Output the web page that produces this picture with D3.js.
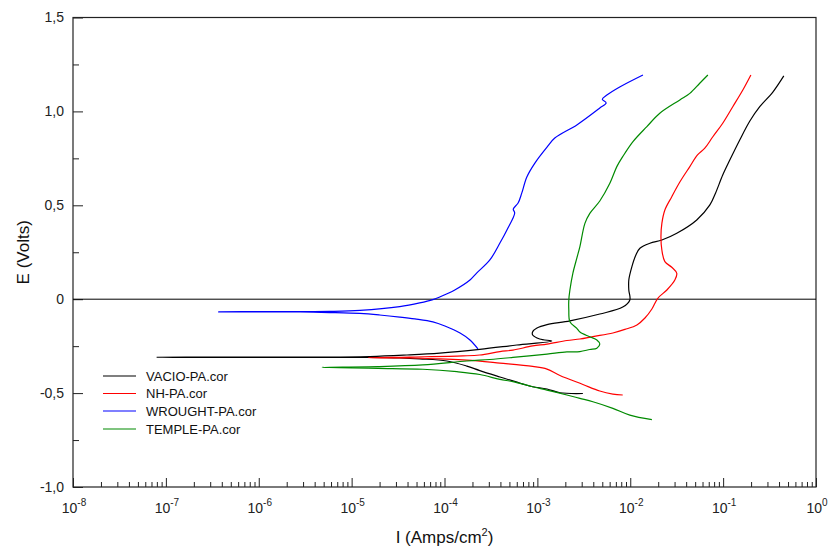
<!DOCTYPE html>
<html><head><meta charset="utf-8">
<script src="https://cdn.jsdelivr.net/npm/d3@7"></script>
<style>body{margin:0;background:#fff;}svg{display:block;font-family:"Liberation Sans",Arial,sans-serif;}</style>
</head><body>
<svg id="chart" width="831" height="549"></svg>
<script>
// ---- data ----
const seriesNames = ["VACIO-PA.cor", "NH-PA.cor", "WROUGHT-PA.cor", "TEMPLE-PA.cor"];
const seriesColors = ["#000000", "#ff0000", "#0000ff", "#008a00"];
const xTickExponents = [-8, -7, -6, -5, -4, -3, -2, -1, 0];
const yTickValues = [-1.0, -0.5, 0, 0.5, 1.0, 1.5];
const yTickLabels = ["-1,0", "-0,5", "0", "0,5", "1,0", "1,5"];

// VACIO (black): current (A/cm2) and potential (V)
const vacioI = [3.09e-3,1.75e-3,1.27e-3,8.9e-4,7.0e-4,3.95e-4,2.40e-4,1.74e-4,1.06e-4,5.4e-5,3.3e-5,1.57e-5,2.8e-6,2.33e-7,8.0e-8,
  2.33e-7,2.8e-6,1.57e-5,3.94e-5,8.9e-5,2.40e-4,6.0e-4,1.43e-3,1.06e-3,8.9e-4,8.9e-4,9.9e-4,1.27e-3,2.24e-3,4.7e-3,8.3e-3,9.9e-3,
  9.65e-3,9.65e-3,1.04e-2,1.15e-2,1.27e-2,1.63e-2,2.19e-2,3.17e-2,5.2e-2,7.2e-2,8.3e-2,9.9e-2,0.118,0.151,0.194,0.248,0.343,0.45];
const vacioE = [-0.502,-0.498,-0.478,-0.466,-0.452,-0.414,-0.380,-0.356,-0.329,-0.318,-0.313,-0.310,-0.310,-0.310,-0.309,
  -0.308,-0.308,-0.305,-0.297,-0.287,-0.267,-0.244,-0.223,-0.212,-0.191,-0.173,-0.153,-0.135,-0.115,-0.079,-0.042,-0.004,
  0.049,0.102,0.172,0.235,0.271,0.298,0.315,0.351,0.422,0.502,0.566,0.661,0.741,0.848,0.949,1.025,1.103,1.189];

// NH (red)
const nhI = [8.3e-3,6.5e-3,4.7e-3,3.09e-3,1.75e-3,1.27e-3,8.9e-4,3.95e-4,1.74e-4,8.9e-5,4.2e-5,1.5e-5,
  4.2e-5,1.58e-4,2.40e-4,3.95e-4,5.45e-4,8.9e-4,1.27e-3,2.08e-3,2.87e-3,3.96e-3,6.5e-3,8.75e-3,1.18e-2,1.44e-2,1.71e-2,1.98e-2,
  2.48e-2,3.02e-2,3.17e-2,2.8e-2,2.36e-2,2.19e-2,2.14e-2,2.19e-2,2.36e-2,2.8e-2,3.42e-2,4.38e-2,5.3e-2,6.35e-2,7.75e-2,9.9e-2,0.127,0.163,0.199];
const nhE = [-0.510,-0.505,-0.489,-0.454,-0.406,-0.372,-0.358,-0.340,-0.324,-0.318,-0.313,-0.312,
  -0.308,-0.302,-0.297,-0.279,-0.271,-0.249,-0.239,-0.220,-0.212,-0.199,-0.180,-0.161,-0.137,-0.100,-0.052,0.005,
  0.049,0.102,0.138,0.170,0.200,0.262,0.333,0.404,0.475,0.546,0.624,0.706,0.768,0.804,0.865,0.937,1.025,1.114,1.194];

// WROUGHT (blue)
const wroughtI = [2.29e-4,1.88e-4,1.47e-4,1.01e-4,7.5e-5,4.8e-5,3.3e-5,2.0e-5,1.23e-5,5.8e-6,2.8e-6,1.03e-6,3.7e-7,
  1.03e-6,2.8e-6,5.8e-6,1.23e-5,3.3e-5,5.4e-5,7.5e-5,8.9e-5,1.29e-4,1.88e-4,2.23e-4,3.08e-4,3.95e-4,4.7e-4,5.7e-4,5.5e-4,6.2e-4,6.8e-4,
  7.7e-4,9.4e-4,1.27e-3,1.54e-3,2.66e-3,4.7e-3,5.5e-3,5.0e-3,5.6e-3,7.7e-3,1.37e-2];
const wroughtE = [-0.264,-0.217,-0.180,-0.143,-0.121,-0.105,-0.095,-0.084,-0.076,-0.071,-0.068,-0.068,-0.068,
  -0.066,-0.066,-0.065,-0.060,-0.040,-0.020,-0.002,0.012,0.049,0.102,0.140,0.209,0.299,0.369,0.459,0.480,0.512,0.566,
  0.651,0.725,0.810,0.858,0.928,1.018,1.045,1.065,1.087,1.130,1.194];

// TEMPLE (green)
const templeI = [1.71e-2,9.9e-3,6.5e-3,3.96e-3,2.87e-3,2.08e-3,1.27e-3,8.9e-4,5.45e-4,3.95e-4,2.40e-4,1.36e-4,5.85e-5,1.92e-5,4.8e-6,
  1.92e-5,5.85e-5,1.74e-4,3.08e-4,5.45e-4,1.27e-3,2.08e-3,2.87e-3,3.67e-3,4.37e-3,4.7e-3,4.37e-3,3.67e-3,2.87e-3,2.66e-3,2.24e-3,
  2.18e-3,2.18e-3,2.24e-3,2.41e-3,2.66e-3,2.87e-3,3.25e-3,3.67e-3,4.7e-3,6.03e-3,7.17e-3,8.3e-3,1.07e-2,1.51e-2,2.08e-2,3.42e-2,4.38e-2,5.6e-2,6.85e-2];
const templeE = [-0.641,-0.617,-0.581,-0.546,-0.528,-0.510,-0.484,-0.466,-0.439,-0.427,-0.401,-0.386,-0.373,-0.368,-0.363,
  -0.359,-0.350,-0.329,-0.321,-0.310,-0.292,-0.281,-0.279,-0.268,-0.261,-0.239,-0.217,-0.200,-0.175,-0.155,-0.120,
  -0.058,-0.004,0.049,0.138,0.219,0.280,0.404,0.457,0.523,0.617,0.706,0.759,0.839,0.919,0.990,1.061,1.096,1.150,1.194];

const seriesI = [vacioI, nhI, wroughtI, templeI];
const seriesE = [vacioE, nhE, wroughtE, templeE];

// ---- drawing ----
const svg = d3.select("#chart");
const L = 73, R = 816, T = 17.5, B = 487;
const x = d3.scaleLog().domain([1e-8, 1]).range([L, R]);
const y = d3.scaleLinear().domain([-1.0, 1.5]).range([B, T]);

// minor / major ticks
const xMajor = xTickExponents.map(e => Math.pow(10, e));
const xMinor = [];
xTickExponents.slice(0, -1).forEach(e => { for (let k = 2; k <= 9; k++) xMinor.push(k * Math.pow(10, e)); });
const yMinor = d3.range(-0.75, 1.5, 0.5);

const gx = svg.append("g").attr("transform", `translate(0,${B})`);
gx.call(d3.axisBottom(x).tickValues(xMinor).tickSize(-5).tickFormat("").tickSizeOuter(0));
gx.append("g").call(d3.axisBottom(x).tickValues(xMajor).tickSize(-9).tickFormat("").tickSizeOuter(0));
const gy = svg.append("g").attr("transform", `translate(${L},0)`);
gy.call(d3.axisLeft(y).tickValues(yMinor).tickSize(-6).tickFormat("").tickSizeOuter(0));
gy.append("g").call(d3.axisLeft(y).tickValues(yTickValues).tickSize(-10).tickFormat("").tickSizeOuter(0));
svg.selectAll(".domain").remove();
svg.selectAll(".tick line").attr("stroke", "#222").attr("stroke-width", 1);

// frame
svg.append("rect").attr("x", L).attr("y", T).attr("width", R - L).attr("height", B - T)
  .attr("fill", "none").attr("stroke", "#222").attr("stroke-width", 1.2);

// zero line
svg.append("line").attr("x1", L).attr("x2", R).attr("y1", y(0)).attr("y2", y(0))
  .attr("stroke", "#000").attr("stroke-width", 1);

// y tick labels
svg.append("g").selectAll("text").data(yTickValues).join("text")
  .attr("x", L - 9).attr("y", d => y(d)).attr("dy", "0.35em")
  .attr("text-anchor", "end").attr("font-size", 14).attr("fill", "#222")
  .text((d, i) => yTickLabels[i]);

// x tick labels with superscripts
const xl = svg.append("g").selectAll("text").data(xTickExponents).join("text")
  .attr("x", d => x(Math.pow(10, d)) + 1).attr("y", 513)
  .attr("text-anchor", "middle").attr("font-size", 14).attr("fill", "#222");
xl.append("tspan").text("10");
xl.append("tspan").attr("font-size", 10).attr("dy", -7).text(d => d);

// axis titles
svg.append("text").attr("transform", `translate(29,${(T + B) / 2}) rotate(-90)`)
  .attr("text-anchor", "middle").attr("font-size", 17).attr("fill", "#111").text("E (Volts)");
const xt = svg.append("text").attr("x", (L + R) / 2).attr("y", 543)
  .attr("text-anchor", "middle").attr("font-size", 17).attr("fill", "#111");
xt.append("tspan").text("I (Amps/cm");
xt.append("tspan").attr("font-size", 11).attr("dy", -7).text("2");
xt.append("tspan").attr("dy", 7).text(")");

// curves
const line = d3.line().x(d => x(d[0])).y(d => y(d[1])).curve(d3.curveCatmullRom.alpha(0.5));
seriesNames.forEach((name, i) => {
  const pts = seriesI[i].map((v, j) => [v, seriesE[i][j]]);
  svg.append("path").datum(pts).attr("d", line)
    .attr("fill", "none").attr("stroke", seriesColors[i]).attr("stroke-width", 1.2)
    .attr("stroke-linejoin", "round");
});

// legend
const legY = [376, 393.5, 411, 429];
const lg = svg.append("g");
seriesNames.forEach((name, i) => {
  lg.append("line").attr("x1", 103).attr("x2", 136).attr("y1", legY[i]).attr("y2", legY[i])
    .attr("stroke", seriesColors[i]).attr("stroke-width", 1.2);
  lg.append("text").attr("x", 146).attr("y", legY[i]).attr("dy", "0.35em")
    .attr("font-size", 13).attr("fill", "#111").text(name);
});
</script>
</body></html>
